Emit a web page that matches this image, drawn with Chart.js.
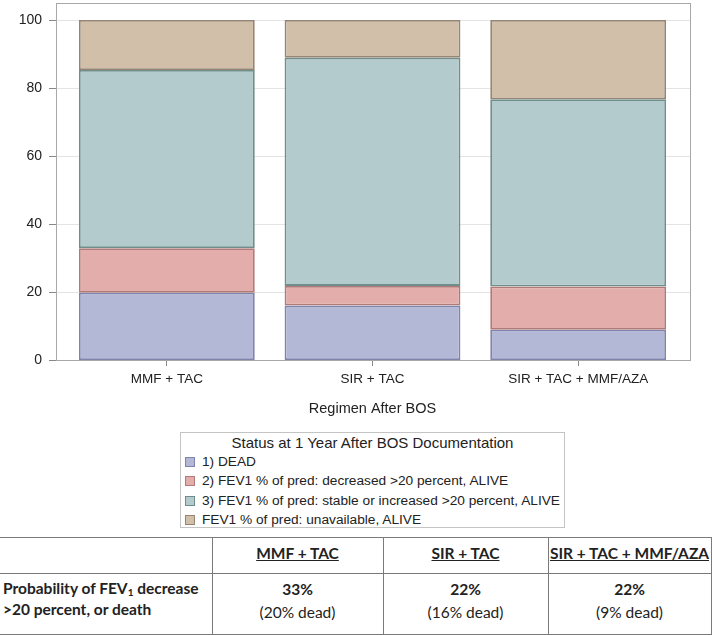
<!DOCTYPE html>
<html>
<head>
<meta charset="utf-8">
<script src="https://cdn.jsdelivr.net/npm/chart.js@4/dist/chart.umd.min.js"></script>
<style>
  html, body { margin: 0; padding: 0; background: #fff; }
  #wrap { position: relative; width: 712px; height: 635px; overflow: hidden; }
  #chartBox { position: absolute; left: 0; top: 0; width: 712px; height: 425px; }
  #legend {
    position: absolute; left: 180px; top: 432px; width: 385px; height: 96px;
    border: 1px solid #c4c4c4; box-sizing: border-box;
    font-family: 'Liberation Sans', Arial, sans-serif; font-size: 13.7px; color: #222;
  }
  #legend .ttl { text-align: center; line-height: 19px; margin-top: 0px; font-size: 15px; }
  #legend .item { line-height: 19.3px; padding-left: 4px; white-space: nowrap; }
  #legend .sw { display: inline-block; width: 10px; height: 10px; margin-right: 7px; vertical-align: -1px; box-sizing: border-box; border: 1px solid; }
  #tbl {
    position: absolute; left: 0; top: 537px; border-collapse: collapse;
    font-family: Lato, 'Open Sans', sans-serif; font-size: 15.5px; color: #222;
  }
  #tbl td { border: 1px solid #7a7a7a; padding: 0; text-align: center; vertical-align: top; }
  #tbl td.first { border-left: none; text-align: left; font-weight: bold; padding-left: 3px; }
  #tbl tr.head td { height: 35px; vertical-align: top; }
  #tbl tr.head td span { font-weight: bold; text-decoration: underline; display: inline-block; margin-top: 6px; }
  #tbl tr.body td { height: 60px; }
  #tbl .pct { font-weight: bold; display: block; margin-top: 4px; line-height: 22px; }
  #tbl .dead { display: block; line-height: 24px; }
  #tbl .lbl { display: block; line-height: 21px; margin-top: 4px; }
  #tbl sub { font-size: 10px; line-height: 0; vertical-align: -2px; }
</style>
</head>
<body>
<div id="wrap">
  <div id="chartBox"><canvas id="myChart"></canvas></div>
  <div id="legend"></div>
  <table id="tbl"></table>
</div>
<script>
// categories and stacked percentages
const regimens = ['MMF + TAC', 'SIR + TAC', 'SIR + TAC + MMF/AZA'];
const seriesNames = [
  '1) DEAD',
  '2) FEV1 % of pred: decreased >20 percent, ALIVE',
  '3) FEV1 % of pred: stable or increased >20 percent, ALIVE',
  'FEV1 % of pred: unavailable, ALIVE'
];
const dead        = [19.8, 16.0, 8.9];
const decreased   = [13.1, 5.8, 12.7];
const stable      = [52.4, 67.1, 55.1];
const unavailable = [14.7, 11.1, 23.3];
const yTicks = [0, 20, 40, 60, 80, 100];

const fills   = ['#b4b8d7', '#e2adaa', '#b3cbcc', '#d2bfaa'];
const borders = ['#8084ad', '#b07a78', '#6f8d8b', '#958574'];

// table below the chart
const tableHeads = ['MMF + TAC', 'SIR + TAC', 'SIR + TAC + MMF/AZA'];
const tableRowLabel = ['Probability of FEV<sub>1</sub> decrease', '&gt;20 percent, or death'];
const probAny  = ['33%', '22%', '22%'];
const probDead = ['(20% dead)', '(16% dead)', '(9% dead)'];

const FONT = "'Liberation Sans', Arial, sans-serif";

document.addEventListener('DOMContentLoaded', () => {
  const ctx = document.getElementById('myChart').getContext('2d');
  const values = [dead, decreased, stable, unavailable];

  // frame, light grid lines and outside tick marks like the SAS plot
  const framePlugin = {
    id: 'frame',
    beforeDatasetsDraw(chart) {
      const c = chart.ctx;
      const a = chart.chartArea;
      const y = chart.scales.y;
      const L = a.left - 8, R = a.right + 9;
      c.save();
      c.strokeStyle = '#e4e4e4';
      c.lineWidth = 1;
      yTicks.forEach(v => {
        if (v === 0) return;
        const py = Math.round(y.getPixelForValue(v)) + 0.5;
        c.beginPath(); c.moveTo(L, py); c.lineTo(R, py); c.stroke();
      });
      c.restore();
    },
    afterDatasetsDraw(chart) {
      const c = chart.ctx;
      const a = chart.chartArea;
      const y = chart.scales.y;
      const L = a.left - 8, R = a.right + 9, T = 3, B = Math.round(a.bottom);
      c.save();
      c.strokeStyle = '#a8a8a8';
      c.lineWidth = 1;
      c.strokeRect(L + 0.5, T + 0.5, R - L, B - T);
      c.strokeStyle = '#888';
      yTicks.forEach(v => {
        const py = Math.round(y.getPixelForValue(v)) + 0.5;
        c.beginPath(); c.moveTo(L - 7, py); c.lineTo(L, py); c.stroke();
      });
      c.restore();
    }
  };

  const chart = new Chart(ctx, {
    type: 'bar',
    data: {
      labels: regimens,
      datasets: values.map((v, i) => ({
        label: seriesNames[i],
        data: v,
        backgroundColor: fills[i],
        borderColor: borders[i],
        borderWidth: 1.8,
        borderSkipped: false,
        barPercentage: 1,
        categoryPercentage: 0.855
      }))
    },
    options: {
      responsive: true,
      maintainAspectRatio: false,
      animation: false,
      layout: { padding: { left: 0, top: 20, right: 31, bottom: 0 } },
      scales: {
        x: {
          stacked: true,
          grid: { display: true, drawOnChartArea: false, offset: false, tickLength: 6, color: '#888' },
          border: { display: false },
          ticks: { color: '#222', padding: 5, font: { family: FONT, size: 13.5 } },
          title: {
            display: true,
            text: 'Regimen After BOS',
            color: '#222',
            padding: { top: 4, bottom: 7 },
            font: { family: FONT, size: 14.5 }
          },
          afterFit(scale) { scale.height = 65; }
        },
        y: {
          stacked: true,
          min: 0,
          max: 100,
          grid: { display: false },
          border: { display: false },
          ticks: {
            stepSize: 20,
            padding: 14,
            color: '#222',
            font: { family: FONT, size: 14 }
          },
          afterFit(scale) {
            scale.width = 64;
            scale.paddingTop = 0;
            scale.paddingBottom = 0;
          }
        }
      },
      plugins: {
        legend: { display: false },
        tooltip: { enabled: false }
      }
    },
    plugins: [framePlugin]
  });

  // legend box built from the chart's datasets
  const leg = document.getElementById('legend');
  let html = '<div class="ttl">Status at 1 Year After BOS Documentation</div>';
  chart.data.datasets.forEach(ds => {
    html += '<div class="item"><span class="sw" style="background:' + ds.backgroundColor +
      ';border-color:' + ds.borderColor + '"></span>' + ds.label.replace(/>/g, '&gt;') + '</div>';
  });
  leg.innerHTML = html;

  // table
  const tbl = document.getElementById('tbl');
  const widths = [212, 171, 165, 163];
  let t = '<colgroup>' + widths.map(w => '<col style="width:' + w + 'px">').join('') + '</colgroup>';
  t += '<tr class="head"><td class="first"></td>' + tableHeads.map(h => '<td><span>' + h + '</span></td>').join('') + '</tr>';
  t += '<tr class="body"><td class="first"><span class="lbl">' + tableRowLabel[0] + '<br>' + tableRowLabel[1] + '</span></td>' +
    probAny.map((p, i) => '<td><span class="pct">' + p + '</span><span class="dead">' + probDead[i] + '</span></td>').join('') + '</tr>';
  tbl.innerHTML = t;
  tbl.style.width = widths.reduce((s, w) => s + w, 0) + 'px';
  tbl.style.tableLayout = 'fixed';
});
</script>
</body>
</html>
